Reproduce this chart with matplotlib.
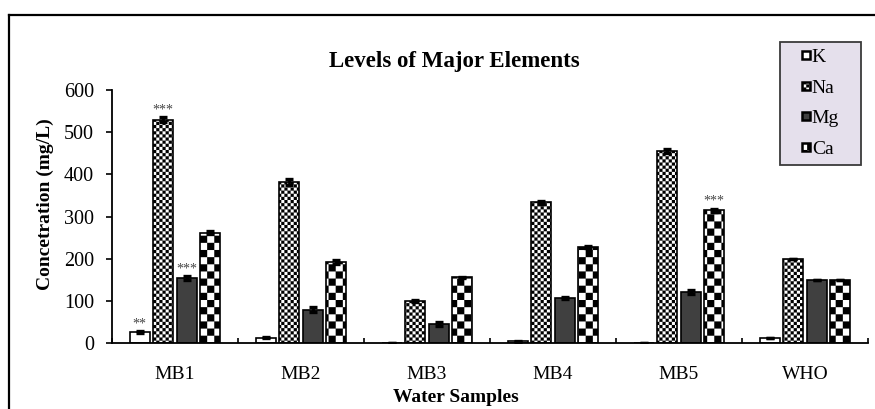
import warnings
import numpy as np
import matplotlib
matplotlib.use('Agg')
import matplotlib.pyplot as plt
import matplotlib.hatch as mhatch
from matplotlib.path import Path
from matplotlib.patches import Rectangle
from matplotlib.lines import Line2D
from matplotlib.container import BarContainer
from matplotlib.legend_handler import HandlerPatch, update_from_first_child

warnings.filterwarnings('ignore')

# data
samples = ['MB1', 'MB2', 'MB3', 'MB4', 'MB5', 'WHO']
elements = ['K', 'Na', 'Mg', 'Ca']
K = [26, 13, 1, 5, 1, 12]
Na = [530, 383, 101, 334, 455, 200]
Mg = [154, 79, 46, 108, 121, 150]
Ca = [262, 193, 156, 228, 315, 150]
K_err = [2, 1, 0.5, 1, 0.5, 0]
Na_err = [5, 7, 2, 3, 5, 0]
Mg_err = [5, 6, 4, 2, 5, 0]
Ca_err = [3, 4, 2, 3, 4, 0]
# significance marks: (element, sample, text)
stars = [('K', 'MB1', '**'), ('Na', 'MB1', '***'), ('Mg', 'MB1', '***'), ('Ca', 'MB5', '***')]


# checkerboard hatches (small 'k' for Na, big 'K' for Ca)
class Checker(mhatch.HatchPatternBase):
    char = 'k'
    cells = 32

    def __init__(self, hatch, density):
        self.on = self.char in hatch
        self.num_vertices = 5 * (self.cells * self.cells // 2) if self.on else 0

    def set_vertices_and_codes(self, vertices, codes):
        n = self.cells
        sq = np.array([[0, 0], [1, 0], [1, 1], [0, 1], [0, 0]], float) / n
        k = 0
        for i in range(n):
            for j in range(n):
                if (i + j) % 2 == 0:
                    vertices[k:k + 5] = sq + [i / n, j / n]
                    codes[k:k + 5] = [Path.MOVETO, Path.LINETO, Path.LINETO,
                                      Path.LINETO, Path.CLOSEPOLY]
                    k += 5


class BigChecker(Checker):
    char = 'K'
    cells = 14


mhatch._hatch_types.append(Checker)
mhatch._hatch_types.append(BigChecker)

plt.rcParams['font.family'] = ['Liberation Serif', 'DejaVu Serif']
plt.rcParams['hatch.linewidth'] = 0.05

fig = plt.figure(figsize=(8.75, 4.09), dpi=100)
ax = fig.add_axes([0.128, 0.1606, 0.864, 0.6194])

x = np.arange(len(samples))
step = 0.1865
w = 0.155
series = [(K, K_err, 'white', ''), (Na, Na_err, 'white', 'k'),
          (Mg, Mg_err, '#404040', ''), (Ca, Ca_err, 'white', 'K')]
for i, (vals, err, col, hatch) in enumerate(series):
    ax.bar(x + (i - 1.5) * step, vals, w, yerr=err, color=col,
           edgecolor='black', linewidth=1.2, hatch=hatch, label=elements[i],
           error_kw=dict(ecolor='black', elinewidth=2, capsize=3.2, capthick=2.4))

for el, s, txt in stars:
    i = elements.index(el)
    j = samples.index(s)
    vals, err = series[i][0], series[i][1]
    ax.text(x[j] + (i - 1.5) * step, vals[j] + err[j] + 2, txt, ha='center',
            va='bottom', fontsize=10, color='#454545')

ax.set_xlim(-0.5, 5.5)
ax.set_ylim(0, 600)
ax.set_yticks(range(0, 601, 100))
ax.set_xticks(np.arange(-0.5, 6, 1))
ax.set_xticklabels([])
ax.set_xticks(x, labels=samples, minor=True)
ax.tick_params(axis='x', which='major', direction='in', length=3.5, width=1.2)
ax.tick_params(axis='x', which='minor', length=0, pad=16, labelsize=14)
ax.tick_params(axis='y', direction='out', length=4, width=1.2, pad=9, labelsize=14.5)
for side in ['top', 'right']:
    ax.spines[side].set_visible(False)
for side in ['left', 'bottom']:
    ax.spines[side].set_linewidth(1.3)

fig.text(454 / 875, 1 - 62 / 409, 'Levels of Major Elements', ha='center',
         va='center', fontsize=16.5, fontweight='bold')
fig.text(456 / 875, 1 - 397 / 409, 'Water Samples', ha='center', va='center',
         fontsize=14, fontweight='bold')
fig.text(45 / 875, 1 - 204 / 409, 'Concetration (mg/L)', ha='center', va='center',
         rotation=90, fontsize=14, fontweight='bold')


def small_square(legend, orig_handle, xdescent, ydescent, width, height, fontsize):
    s = 5.6
    return Rectangle((-xdescent + width - s, -ydescent + (height - s) / 2), s, s)


leg = ax.legend(loc='upper left', bbox_to_anchor=(780 / 875, 0, 81 / 875, 1 - 42 / 409),
                bbox_transform=fig.transFigure, mode='expand', borderaxespad=0,
                fontsize=14, fancybox=False, framealpha=1, borderpad=0.36,
                handlelength=1.18, handleheight=0.5, handletextpad=0.1,
                labelspacing=0.7,
                handler_map={BarContainer: HandlerPatch(patch_func=small_square,
                                                        update_func=update_from_first_child)})
leg.get_frame().set_facecolor('#E5E0EC')
leg.get_frame().set_edgecolor('#3a3a3a')
leg.get_frame().set_linewidth(1.3)
for h in leg.legend_handles:
    h.set_linewidth(1.8)

# outer frame of the picture (left and top edges)
fig.add_artist(Line2D([9 / 875, 9 / 875], [0, 1 - 15 / 409], transform=fig.transFigure,
                      color='black', lw=1.6))
fig.add_artist(Line2D([9 / 875, 1], [1 - 15 / 409, 1 - 15 / 409], transform=fig.transFigure,
                      color='black', lw=1.6))

fig.savefig('out.png', dpi=100)
